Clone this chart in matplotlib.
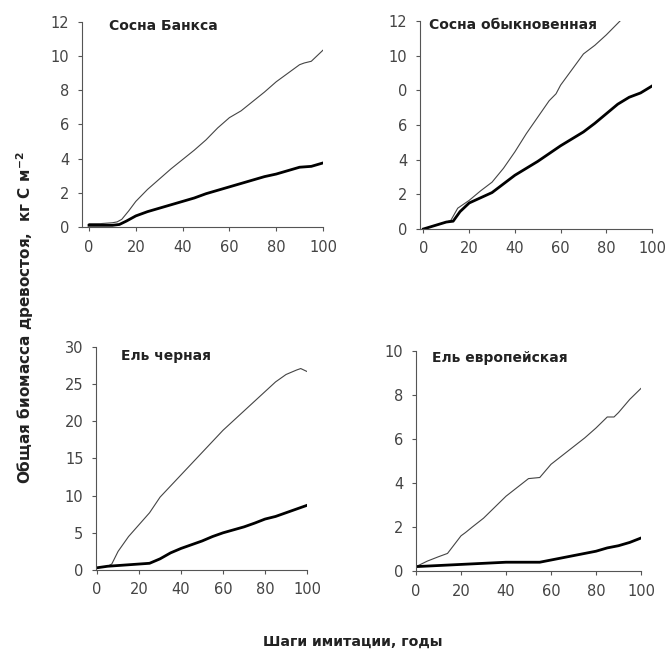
import numpy as np
import matplotlib.pyplot as plt

# Сосна Банкса
x1_thin = [0, 5, 10, 12, 14, 17, 20, 25, 30, 35, 40, 45, 50, 55, 60, 65, 70, 75, 80, 85, 90, 92, 95, 100]
y1_thin = [0.2, 0.2, 0.25, 0.3, 0.45, 0.95, 1.5, 2.2, 2.8, 3.4, 3.95, 4.5, 5.1, 5.8, 6.4, 6.8, 7.35, 7.9, 8.5, 9.0, 9.5, 9.6, 9.7, 10.35]
x1_thick = [0, 5, 10, 13, 16, 20, 25, 30, 35, 40, 45, 50, 55, 60, 65, 70, 75, 80, 85, 90, 95, 100]
y1_thick = [0.1, 0.1, 0.1, 0.15, 0.35, 0.65, 0.9, 1.1, 1.3, 1.5, 1.7, 1.95, 2.15, 2.35, 2.55, 2.75, 2.95, 3.1, 3.3, 3.5, 3.55, 3.75]

# Сосна обыкновенная
x2_thin = [0, 5, 10, 12, 15, 20, 25, 30, 35, 40, 45, 50, 55, 58, 60, 65, 70, 75, 80, 86]
y2_thin = [0.0, 0.2, 0.4, 0.5, 1.2, 1.65, 2.2, 2.7, 3.5, 4.45, 5.5, 6.45, 7.4, 7.8, 8.3, 9.2, 10.1, 10.6, 11.2, 12.0]
x2_thick = [0, 5, 10, 13, 16, 20, 25, 30, 35, 40, 45, 50, 55, 60, 65, 70, 75, 80, 85, 90, 95, 100]
y2_thick = [0.0, 0.2, 0.4, 0.45, 1.0, 1.5, 1.8, 2.1, 2.6, 3.1, 3.5, 3.9, 4.35, 4.8, 5.2, 5.6, 6.1, 6.65, 7.2, 7.6, 7.85, 8.25]

# Ель черная
x3_thin = [0, 5, 7, 10, 15, 20, 25, 30, 35, 40, 45, 50, 55, 60, 65, 70, 75, 80, 85, 90, 95, 97, 100]
y3_thin = [0.3, 0.5, 0.8, 2.5, 4.5, 6.1, 7.7, 9.8, 11.3, 12.8, 14.3, 15.8, 17.3, 18.8, 20.1, 21.4, 22.7, 24.0, 25.3, 26.3, 26.9, 27.1, 26.7]
x3_thick = [0, 5, 10, 15, 20, 25, 30, 35, 40, 45, 50, 55, 60, 65, 70, 75, 80, 85, 90, 95, 100]
y3_thick = [0.3, 0.5, 0.6, 0.7, 0.8, 0.9, 1.5, 2.3, 2.9, 3.4, 3.9, 4.5, 5.0, 5.4, 5.8, 6.3, 6.85, 7.2, 7.7, 8.2, 8.7]

# Ель европейская
x4_thin = [0, 5, 10, 14, 17, 20, 22, 25, 30, 35, 40, 45, 50, 55, 60, 65, 70, 75, 80, 85, 88, 90, 95, 100]
y4_thin = [0.2, 0.45, 0.65, 0.8, 1.2, 1.6, 1.75, 2.0, 2.4, 2.9, 3.4, 3.8, 4.2, 4.25, 4.85, 5.25, 5.65, 6.05, 6.5, 7.0, 7.0, 7.2, 7.8, 8.3]
x4_thick = [0, 10, 20, 30, 40, 50, 55, 60, 65, 70, 75, 80, 85, 90, 95, 100]
y4_thick = [0.2, 0.25, 0.3, 0.35, 0.4, 0.4, 0.4, 0.5, 0.6, 0.7, 0.8, 0.9, 1.05, 1.15, 1.3, 1.5]

titles = ['Сосна Банкса', 'Сосна обыкновенная', 'Ель черная', 'Ель европейская']
yticks = [[0, 2, 4, 6, 8, 10, 12], [0, 2, 4, 6, 8, 10, 12],
          [0, 5, 10, 15, 20, 25, 30], [0, 2, 4, 6, 8, 10]]
yticklabels = [['0', '2', '4', '6', '8', '10', '12'],
               ['0', '2', '4', '6', '0', '10', '12'],
               ['0', '5', '10', '15', '20', '25', '30'],
               ['0', '2', '4', '6', '8', '10']]
xticks = [0, 20, 40, 60, 80, 100]

panels = [(x1_thin, y1_thin, x1_thick, y1_thick),
          (x2_thin, y2_thin, x2_thick, y2_thick),
          (x3_thin, y3_thin, x3_thick, y3_thick),
          (x4_thin, y4_thin, x4_thick, y4_thick)]

boxes = [[0.1233, 0.6518, 0.3624, 0.3145],
         [0.6316, 0.6488, 0.3489, 0.3190],
         [0.1444, 0.1258, 0.3173, 0.3420],
         [0.6256, 0.1242, 0.3383, 0.3375]]
xmins = [-3, -1.5, -0.5, 0]
title_x = [0.11, 0.04, 0.12, 0.07]
title_y = [1.015, 1.015, 0.99, 1.0]

fig = plt.figure(figsize=(6.65, 6.52), dpi=100)

for i in range(4):
    ax = fig.add_axes(boxes[i])
    xt, yt, xk, yk = panels[i]
    ax.plot(xt, yt, color='#444444', lw=0.8)
    ax.plot(xk, yk, color='black', lw=2.0)
    ax.set_xlim(xmins[i], 100)
    ax.set_ylim(0, yticks[i][-1])
    ax.set_xticks(xticks)
    ax.set_yticks(yticks[i])
    ax.set_yticklabels(yticklabels[i])
    for s in ['top', 'right']:
        ax.spines[s].set_visible(False)
    for s in ['left', 'bottom']:
        ax.spines[s].set_color('#555555')
        ax.spines[s].set_linewidth(0.8)
    ax.tick_params(direction='out', length=3, width=0.8, color='#555555',
                   labelsize=10.5, labelcolor='#444444', pad=6)
    ax.text(title_x[i], title_y[i], titles[i], transform=ax.transAxes,
            fontsize=10, fontweight='bold', va='top', ha='left', color='#222222',
            clip_on=False)

fig.text(0.038, 0.512, 'Общая биомасса древостоя,  кг С м$^{\\mathbf{-2}}$', rotation=90,
         fontsize=11, fontweight='bold', ha='center', va='center', color='#222222')
fig.text(0.53, 0.016, 'Шаги имитации, годы', fontsize=10.2, fontweight='bold',
         ha='center', va='center', color='#222222')

fig.savefig('out.png', dpi=100)
